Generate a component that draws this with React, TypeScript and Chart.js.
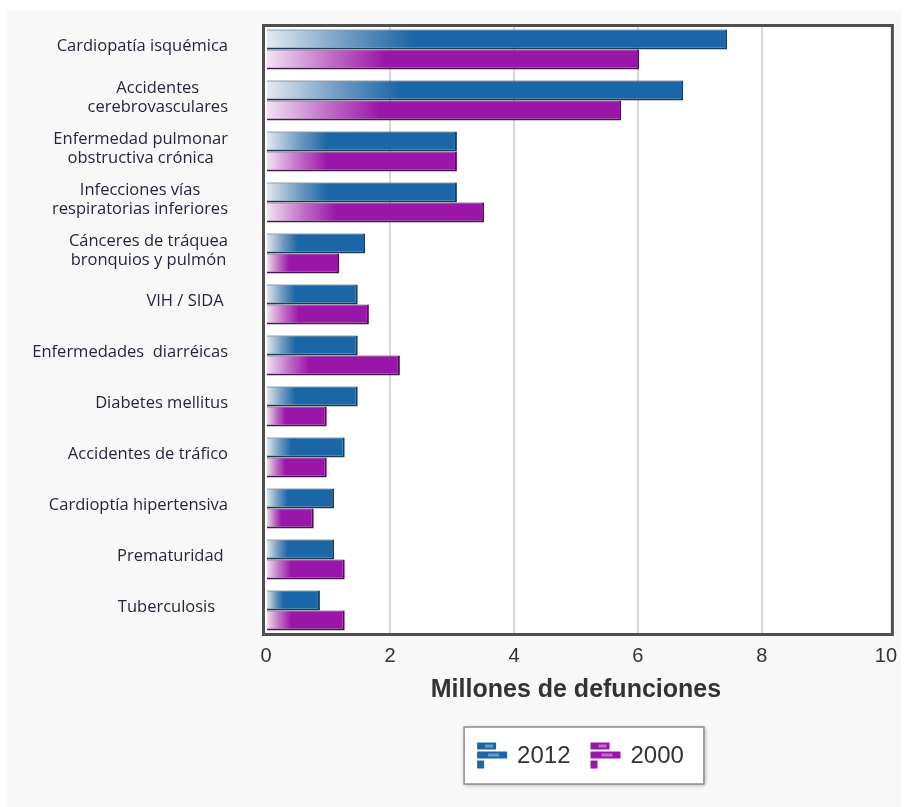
import { useEffect, useRef } from 'react';
import { Chart, registerables } from 'chart.js';

Chart.register(...registerables);

const categories: string[][] = [
  ['Cardiopatía isquémica'],
  ['Accidentes', 'cerebrovasculares'],
  ['Enfermedad pulmonar', 'obstructiva crónica'],
  ['Infecciones vías', 'respiratorias inferiores'],
  ['Cánceres de tráquea', 'bronquios y pulmón'],
  ['VIH / SIDA '],
  ['Enfermedades  diarréicas'],
  ['Diabetes mellitus'],
  ['Accidentes de tráfico'],
  ['Cardioptía hipertensiva'],
  ['Prematuridad '],
  ['Tuberculosis   '],
];
const seriesLabels = ['2012', '2000'];
const values2012 = [7.44, 6.73, 3.08, 3.08, 1.6, 1.48, 1.48, 1.48, 1.27, 1.1, 1.1, 0.87];
const values2000 = [6.02, 5.73, 3.08, 3.52, 1.18, 1.66, 2.16, 0.98, 0.98, 0.77, 1.27, 1.27];
const xTickValues = [0, 2, 4, 6, 8, 10];
const axisTitle = 'Millones de defunciones';

const COLORS = [
  { full: '#1b66a6', mid: '#6f9ac2', light: '#e4ebf2', border: '#1d3b57' },
  { full: '#9a16a8', mid: '#bf6cc6', light: '#f4e4f4', border: '#45174d' },
];

const LABEL_FONT = '16.5px "Open Sans", sans-serif';
const LABEL_RIGHT = 228;

function gradientFill(idx: number) {
  return (ctx: any) => {
    const chart = ctx.chart;
    const c = COLORS[idx];
    if (!chart.chartArea || ctx.raw == null) return c.full;
    const xs = chart.scales.x;
    const x0 = xs.getPixelForValue(0);
    const x1 = xs.getPixelForValue(ctx.raw);
    const w = Math.max(2, (x1 - x0) * 0.32);
    const g = chart.ctx.createLinearGradient(x0, 0, x0 + w, 0);
    g.addColorStop(0, c.light);
    g.addColorStop(0.55, c.mid);
    g.addColorStop(1, c.full);
    return g;
  };
}

const backgroundPlugin = {
  id: 'bgPanel',
  beforeDraw(chart: any) {
    const { ctx, chartArea } = chart;
    ctx.save();
    ctx.fillStyle = '#ffffff';
    ctx.fillRect(0, 0, chart.width, chart.height);
    ctx.fillStyle = '#f8f8f8';
    ctx.fillRect(7, 11, 894, chart.height - 11);
    ctx.fillStyle = '#ffffff';
    ctx.fillRect(chartArea.left - 3, chartArea.top, chartArea.right - chartArea.left + 10, chartArea.bottom - chartArea.top);
    ctx.restore();
  },
};

const framePlugin = {
  id: 'frame',
  afterDatasetsDraw(chart: any) {
    const { ctx, chartArea } = chart;
    ctx.save();
    ctx.strokeStyle = '#4f4f4f';
    ctx.lineWidth = 3;
    ctx.strokeRect(chartArea.left - 2.5, chartArea.top + 1.5, chartArea.right - chartArea.left + 9, chartArea.bottom - chartArea.top - 3);
    ctx.restore();
  },
};

const categoryLabelPlugin = {
  id: 'catLabels',
  afterDraw(chart: any) {
    const { ctx } = chart;
    const ys = chart.scales.y;
    const labels = chart.data.labels as string[][];
    ctx.save();
    ctx.font = LABEL_FONT;
    ctx.fillStyle = '#26263a';
    ctx.textAlign = 'center';
    ctx.textBaseline = 'middle';
    const lh = 19;
    labels.forEach((lines, i) => {
      const maxW = Math.max(...lines.map((l) => ctx.measureText(l).width));
      const cx = LABEL_RIGHT - maxW / 2;
      const cy = ys.getPixelForTick(i) - 3;
      const startY = cy - ((lines.length - 1) * lh) / 2;
      lines.forEach((l, j) => ctx.fillText(l.trimEnd(), cx - (ctx.measureText(l).width - ctx.measureText(l.trimEnd()).width) / 2, startY + j * lh));
    });
    ctx.restore();
  },
};

function drawIcon(ctx: CanvasRenderingContext2D, x: number, y: number, c: { full: string; mid: string; light: string }) {
  ctx.fillStyle = c.full;
  ctx.fillRect(x, y, 19, 7);
  ctx.fillRect(x, y + 9, 30, 7);
  ctx.fillRect(x, y + 18, 7, 8);
  ctx.fillStyle = c.mid;
  ctx.fillRect(x + 8, y + 2, 8, 3);
  ctx.fillRect(x + 11, y + 11, 11, 3);
}

const legendPlugin = {
  id: 'customLegend',
  afterDraw(chart: any) {
    const { ctx } = chart;
    const ds = chart.data.datasets;
    ctx.save();
    ctx.font = '24px "Liberation Sans", Arial, sans-serif';
    const iconW = 30, gapIT = 10, gapItems = 20, padL = 13, padR = 20;
    const widths = ds.map((d: any) => ctx.measureText(d.label).width);
    let total = padL + padR + gapItems * (ds.length - 1);
    widths.forEach((w: number) => (total += iconW + gapIT + w));
    const boxX = 584 - total / 2;
    const boxY = 727;
    const boxH = 57;
    ctx.shadowColor = 'rgba(0,0,0,0.35)';
    ctx.shadowBlur = 4;
    ctx.shadowOffsetX = 1;
    ctx.shadowOffsetY = 1;
    ctx.fillStyle = '#ffffff';
    ctx.fillRect(boxX, boxY, total, boxH);
    ctx.shadowColor = 'transparent';
    ctx.strokeStyle = '#8c8c8c';
    ctx.lineWidth = 1.5;
    ctx.strokeRect(boxX, boxY, total, boxH);
    let x = boxX + padL;
    const cy = boxY + boxH / 2;
    ds.forEach((d: any, i: number) => {
      drawIcon(ctx, x, cy - 13, COLORS[i]);
      x += iconW + gapIT;
      ctx.fillStyle = '#333333';
      ctx.textAlign = 'left';
      ctx.textBaseline = 'middle';
      ctx.fillText(d.label, x, cy + 1);
      x += widths[i] + gapItems;
    });
    ctx.restore();
  },
};

export default function App() {
  const ref = useRef<HTMLCanvasElement | null>(null);
  useEffect(() => {
    if (!ref.current) return;
    const chart = new Chart(ref.current, {
      type: 'bar',
      data: {
        labels: categories as any,
        datasets: [values2012, values2000].map((vals, i) => ({
          label: seriesLabels[i],
          data: vals,
          backgroundColor: gradientFill(i),
          borderColor: COLORS[i].border,
          borderWidth: { top: 1, right: 2, bottom: 2, left: 0 },
          borderSkipped: false,
          barPercentage: 1,
          categoryPercentage: 0.78,
        })),
      },
      options: {
        indexAxis: 'y',
        responsive: false,
        maintainAspectRatio: false,
        animation: false,
        devicePixelRatio: 1,
        layout: { padding: { top: 24, right: 19, bottom: 91, left: 0 } },
        plugins: { legend: { display: false }, tooltip: { enabled: false }, title: { display: false } },
        scales: {
          y: {
            type: 'category',
            ticks: { display: false },
            grid: { display: false },
            border: { display: false },
            afterFit: (s: any) => { s.width = 266; },
          },
          x: {
            min: 0,
            max: 10,
            afterBuildTicks: (s: any) => { s.ticks = xTickValues.map((v) => ({ value: v })); },
            ticks: {
              color: '#333333',
              font: { family: '"Liberation Sans", Arial, sans-serif', size: 20 },
              padding: 8,
            },
            grid: {
              drawTicks: false,
              lineWidth: 2,
              color: (c: any) => (c.tick && (c.tick.value === 0 || c.tick.value === 10) ? 'rgba(0,0,0,0)' : '#d8d8d8'),
            },
            border: { display: false },
            title: {
              display: true,
              text: axisTitle,
              color: '#333333',
              font: { family: '"Liberation Sans", Arial, sans-serif', size: 25, weight: 'bold' },
              padding: { top: 0, bottom: 11 },
            },
            afterFit: (s: any) => { s.height = 80; },
          },
        },
      },
      plugins: [backgroundPlugin, framePlugin, categoryLabelPlugin, legendPlugin],
    });
    return () => chart.destroy();
  }, []);
  return (
    <div style={{ position: 'absolute', left: 0, top: 0, width: 905, height: 807 }}>
      <canvas ref={ref} width={905} height={807} style={{ display: 'block', width: 905, height: 807 }} />
    </div>
  );
}
